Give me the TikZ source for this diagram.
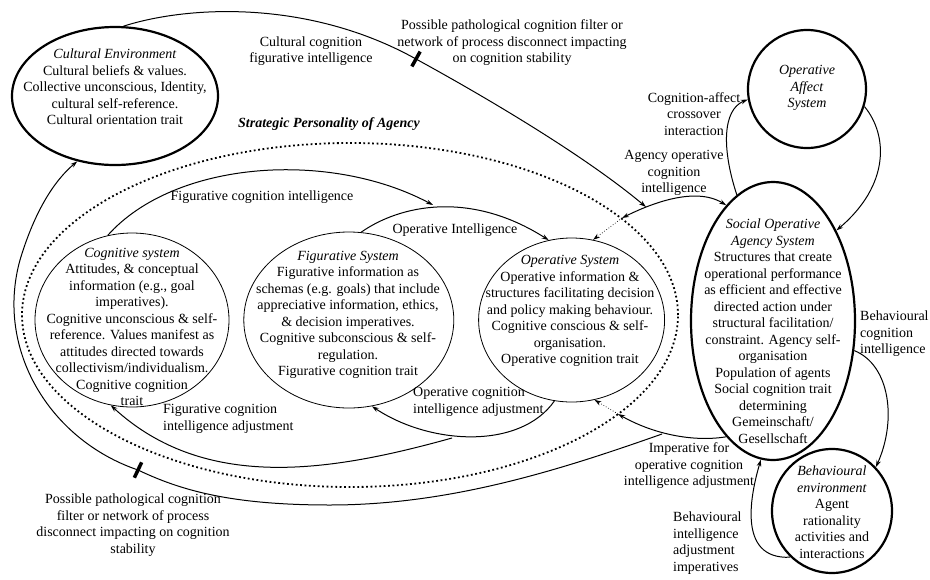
\documentclass[tikz,border=0pt]{standalone}
\usepackage{fontspec}
\setmainfont{Liberation Serif}
\usetikzlibrary{arrows.meta,positioning,shapes.geometric}

\begin{document}
\begin{tikzpicture}
  [
   x=1pt, y=-1pt,
   node distance=14pt,
   font=\fontsize{14}{16.5}\selectfont,
   >={Stealth[length=7pt,width=4.5pt]},
   bigell/.style={ellipse,draw,line width=2.2pt,inner sep=0pt},
   sysell/.style={ellipse,draw,line width=0.8pt,inner sep=0pt},
   dotell/.style={ellipse,draw,line width=1.8pt,dash pattern=on 1.8pt off 2.6pt,inner sep=0pt},
   txt/.style={align=center,inner sep=0pt},
   ltxt/.style={align=left,inner sep=0pt,anchor=west},
   link/.style={line width=1pt,->},
   thindot/.style={dotted,line width=0.7pt,->},
   tickbar/.style={rectangle,fill=black,inner sep=0pt,minimum width=3.5pt,minimum height=17pt,sloped}
  ]
   \useasboundingbox (0,0) rectangle (930,579);

   % systems
   \node[dotell,minimum width=656pt,minimum height=344pt] (spa) at (350,315) {};
   \node[sysell,minimum width=194pt,minimum height=174pt] (cs) at (132,320) {};
   \node[sysell,minimum width=210pt,minimum height=176pt] (fs) [right=of cs] {};
   \node[sysell,minimum width=186pt,minimum height=164pt] (os) [right=24pt of fs] {};
   \node[bigell,minimum width=206pt,minimum height=138pt] (ce) at (115,96) {};
   \node[bigell,circle,minimum size=118pt] (oa) at (807,89) {};
   \node[bigell,minimum width=164pt,minimum height=278pt] (soa) at (773,321) {};
   \node[bigell,minimum width=120pt,minimum height=124pt] (be) at (832,511) {};

   \node[txt] (cet) at (115,87) {\textit{Cultural Environment}\\Cultural beliefs \& values.\\Collective unconscious, Identity,\\cultural self-reference.\\Cultural orientation trait};
   \node[txt] (oat) at (807,88) {\textit{Operative}\\\textit{Affect}\\\textit{System}};
   \node[txt] (soat) at (773,331) {\textit{Social Operative}\\\textit{Agency System}\\Structures that create\\operational performance\\as efficient and effective\\directed action under\\structural facilitation/\\constraint. Agency self-\\organisation\\Population of agents\\Social cognition trait\\determining\\Gemeinschaft/\\Gesellschaft};
   \node[txt] (bet) at (832,512) {\textit{Behavioural}\\\textit{environment}\\Agent\\rationality\\activities and\\interactions};
   \node[txt] (cst) at (132,327) {\textit{Cognitive system}\\Attitudes, \& conceptual\\information (e.g., goal\\imperatives).\\Cognitive unconscious \& self-\\reference. Values manifest as\\attitudes directed towards\\collectivism/individualism.\\Cognitive cognition\\trait};
   \node[txt] (fst) at (348,315) {\textit{Figurative System}\\Figurative information as\\schemas (e.g. goals) that include\\appreciative information, ethics,\\\& decision imperatives.\\Cognitive subconscious \& self-\\regulation.\\Figurative cognition trait};
   \node[txt] (ost) at (570,311) {\textit{Operative System}\\Operative information \&\\structures facilitating decision\\and policy making behaviour.\\Cognitive conscious \& self-\\organisation.\\Operative cognition trait};
   \node[txt,font=\fontsize{14}{16.5}\selectfont\bfseries\itshape] (spat) at (329,124) {Strategic Personality of Agency};

   % junctions
   \coordinate (jtop) at (622,218);
   \coordinate (jtopa) at (646,207);
   \coordinate (jbot) at (618,414);
   \coordinate (jsplit) at (662,434);
   \coordinate (jmid) at (433,205);
   \coordinate (jfa) at (452,438);

   % connectors
   \draw[link] (ce.83) .. controls (190,5) and (310,0) .. (416,59) node[tickbar,pos=1] (tk1) {}
      .. controls (500,105) and (590,160) .. (jtopa);
   \draw[thindot] (jtop) -- (os.75);
   \draw[link,<->] (jtop) .. controls (650,204) and (695,186) .. (soa.112);
   \draw[link] (soa.106) .. controls (722,150) and (722,110) .. (oa.190);
   \draw[link] (oa.-17) .. controls (888,135) and (890,185) .. (soa.55);
   \draw[link] (soa.-20) .. controls (890,365) and (897,420) .. (be.45);
   \draw[link] (be.228) .. controls (735,560) and (752,490) .. (soa.265);
   \draw[link] (soa.248) .. controls (695,442) and (655,435) .. (jbot);
   \draw[thindot] (jbot) -- (os.-74);
   \draw[link] (jsplit) .. controls (560,470) and (450,505) .. (330,505)
      .. controls (230,505) and (180,490) .. (138,470) node[tickbar,pos=1] (tk2) {}
      .. controls (50,440) and (-5,350) .. (20,260)
      .. controls (35,210) and (55,180) .. (ce.240);
   \draw[link] (cs.106) .. controls (175,160) and (330,150) .. (jmid);
   \draw[link] (fs.82) .. controls (400,205) and (470,190) .. (os.106);
   \draw[link] (os.258) .. controls (520,450) and (430,445) .. (fs.285);
   \draw[link] (jfa) .. controls (330,472) and (205,492) .. (cs.256);

   % labels
   \node[txt] (l1) at (311,51) {Cultural cognition\\figurative intelligence};
   \node[txt] (l2) at (512,43) {Possible pathological cognition filter or\\network of process disconnect impacting\\on cognition stability};
   \node[txt] (l3) at (694,114) {Cognition-affect\\crossover\\interaction};
   \node[txt] (l4) at (674,173) {Agency operative\\cognition\\intelligence};
   \node[txt] (l5) at (262,197) {Figurative cognition intelligence};
   \node[txt] (l6) at (455,230) {Operative Intelligence};
   \node[ltxt] (l7) at (413,402) {Operative cognition\\intelligence adjustment};
   \node[ltxt] (l8) at (163,419) {Figurative cognition\\intelligence adjustment};
   \node[txt] (l9) at (689,466) {Imperative for\\operative cognition\\intelligence adjustment};
   \node[ltxt] (l10) at (860,334) {Behavioural\\cognition\\intelligence};
   \node[ltxt] (l11) at (673,543) {Behavioural\\intelligence\\adjustment\\imperatives};
   \node[txt] (l12) at (133,525) {Possible pathological cognition\\filter or network of process\\disconnect impacting on cognition\\stability};

\end{tikzpicture}
\end{document}
